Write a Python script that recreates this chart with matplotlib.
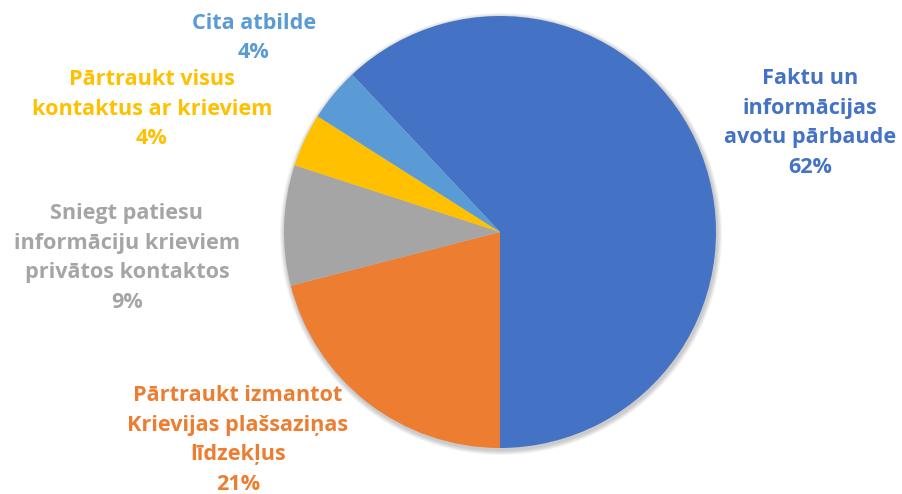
import matplotlib
matplotlib.use("Agg")
import matplotlib.pyplot as plt
from matplotlib.patches import Circle

categories = [
    "Faktu un\ninformācijas\navotu pārbaude",
    "Pārtraukt izmantot\nKrievijas plašsaziņas\nlīdzekļus",
    "Sniegt patiesu\ninformāciju krieviem\nprivātos kontaktos",
    "Pārtraukt visus\nkontaktus ar krieviem",
    "Cita atbilde",
]
values = [62, 21, 9, 4, 4]
colors = ["#4472C4", "#ED7D31", "#A5A5A5", "#FFC000", "#5B9BD5"]
text_colors = ["#4472C4", "#ED7D31", "#A5A5A5", "#FFC000", "#5B9BD5"]

W, H = 903, 494
fig = plt.figure(figsize=(W / 100, H / 100), dpi=100)
ax = fig.add_axes([0, 0, 1, 1])

cx, cy, r = 500, H - 232, 216

# soft shadow
for i in range(6):
    ax.add_patch(Circle((cx + 1, cy - 2), r + 1 + i * 0.8, color="black",
                        alpha=0.035, lw=0, zorder=0))

start = -90 + 360 * values[0] / 100  # blue ends at bottom
wedges, _ = ax.pie(values, colors=colors, startangle=start, counterclock=False,
                   center=(cx, cy), radius=r, frame=True,
                   wedgeprops=dict(linewidth=0))
for w in wedges:
    w.set_zorder(2)
ax.set_xlim(0, W)
ax.set_ylim(0, H)
ax.set_aspect("equal")
ax.axis("off")

label_pos = [(810, 123), (238, 440), (127, 258), (152, 109), (254, 38)]
for cat, v, col, (px, py) in zip(categories, values, text_colors, label_pos):
    ax.text(px, H - py, f"{cat}\n{v}%", ha="center", va="center",
            color=col, fontsize=15.6, fontweight="bold", family="Open Sans",
            linespacing=1.55)

fig.savefig("out.png", dpi=100)
